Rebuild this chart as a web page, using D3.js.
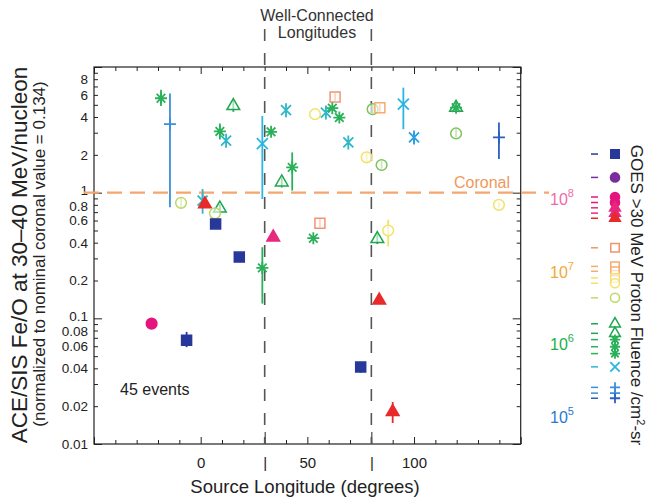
<!DOCTYPE html>
<html>
<head>
<meta charset="utf-8">
<script src="https://cdn.jsdelivr.net/npm/d3@7"></script>
<style>
body { margin: 0; background: #fff; }
text { font-family: "Liberation Sans", Arial, Helvetica, sans-serif; }
</style>
</head>
<body>
<script>
var g_width = 650
var g_height = 498

// ---- data ----
// source longitude (deg) of each of the 45 events
var longitudes = [-18.6, -14.4, 15.3, 9.0, 11.9, 28.9, 33, 40, 42.9, 38,
                  -9.2, 0.9, 2.0, 9.0, 6.7, 7.0, 18.1, 34, 28.9, 52.8,
                  55.9, -23, 82.8, 87.9, 139.8, 83.7, 53.6, 58.7, 63, 61.7,
                  65, 69.2, 77.8, 80.6, 84, 84.8, 95, 100, 119.7, 119.7,
                  119.7, 139.8, -6.6, 75, 90]
// Fe/O normalised to coronal
var feO = [5.64, 3.51, 4.9, 3.07, 2.59, 2.46, 3.05, 4.53, 1.59, 1.21,
           0.83, 0.864, 0.81, 0.75, 0.685, 0.564, 0.307, 0.442, 0.252, 0.434,
           0.571, 0.0907, 0.429, 0.5, 0.8, 0.139, 4.21, 4.34, 5.78, 4.7,
           3.96, 2.51, 1.91, 4.62, 4.75, 1.66, 5.06, 2.75, 4.75, 4.75,
           2.96, 2.75, 0.0669, 0.041, 0.018]
var errLow = [4.9, 0.764, 4.4, 2.65, null, 0.89, null, null, 1.04, 1.1,
              0.76, 0.68, null, 0.69, null, null, null, null, 0.131, null,
              0.53, null, 0.39, 0.373, 0.76, null, null, null, 5.4, null,
              null, null, 1.75, 4.25, 4.4, 1.55, 3.2, 2.5, null, null,
              2.75, 1.85, 0.059, 0.037, 0.0147]
var errHigh = [6.6, 6.14, 5.4, 3.55, null, 4.08, null, null, 2.09, 1.33,
               0.91, 1.07, null, 0.81, null, null, null, null, 0.368, null,
               0.62, null, 0.47, 0.61, 0.84, null, null, null, 6.2, null,
               null, null, 2.08, 5.0, 5.1, 1.78, 6.85, 3.0, null, null,
               3.2, 3.61, 0.078, 0.045, 0.0216]
// GOES fluence class of each event (picks symbol + colour)
var fluenceClass = ["astGreen", "crossBlue", "triGreen", "astGreen", "astCyan", "xCyan", "astGreen", "astCyan", "astGreen", "triGreen",
                    "circYG", "astCyan", "triRed", "triGreen", "circYG", "sqNavy", "sqNavy", "triMag", "astGreen", "astGreen",
                    "sqSalmon", "circMag", "triGreen", "circYellow", "circYellow", "triRed", "circYellow", "astCyan", "sqSalmon", "astGreen",
                    "astGreen", "astCyan", "circYellow", "circGreen", "sqOrange", "circGreen", "xCyan", "astBlue", "triGreen", "astGreen",
                    "circGreen", "crossDark", "sqNavy", "sqNavy", "triRed"]

// legend: fluence (/cm2-sr) and class of each legend row
var legendFluence = [3.9e8, 1.86e8, 1.0e8, 8.4e7, 7.1e7, 6.0e7, 5.1e7, 2.0e7, 1.11e7, 9.5e6,
                     7.7e6, 6.5e6, 4.1e6, 1.8e6, 1.33e6, 1.09e6, 8.7e5, 7.0e5, 4.6e5, 2.4e5,
                     2.0e5, 1.7e5]
var legendClass = ["sqNavy", "circPurple", "circMag", "circMag", "triMag", "triMag", "triRed", "sqSalmon", "sqOrange", "sqOrange",
                   "sqYellow", "circYellow", "circYG", "triGreen", "triGreen", "astGreen", "astGreen", "astGreen", "xCyan", "crossBlue",
                   "crossBlue", "crossDark"]
var fluenceTicks = [1e5, 1e6, 1e7, 1e8]
var fluenceTickColors = ["#2a78d0", "#22b04a", "#f4a838", "#f06aa8"]

var xTickLabels = {"0": "0", "30": "|", "50": "50", "80": "|", "100": "100"}
var yTickLabels = [0.01, 0.02, 0.04, 0.06, 0.08, 0.1, 0.2, 0.4, 0.6, 0.8, 1, 2, 4, 6, 8]
var wellConnected = [30, 80]
var coronalValue = 1

// ---- marker styles ----
var markerStyle = {
    sqNavy:     {shape: "square",   filled: true,  color: "#27389a"},
    circPurple: {shape: "circle",   filled: true,  color: "#7b2d9e"},
    circMag:    {shape: "circle",   filled: true,  color: "#e5157d"},
    triMag:     {shape: "triangle", filled: true,  color: "#e7287f"},
    triRed:     {shape: "triangle", filled: true,  color: "#e82a2a"},
    sqSalmon:   {shape: "square",   filled: false, color: "#f29472"},
    sqOrange:   {shape: "square",   filled: false, color: "#f5ac6c"},
    sqYellow:   {shape: "square",   filled: false, color: "#f3e070"},
    circYellow: {shape: "circle",   filled: false, color: "#f1e26a"},
    circYG:     {shape: "circle",   filled: false, color: "#bcd96a"},
    circGreen:  {shape: "circle",   filled: false, color: "#7cc35a"},
    triGreen:   {shape: "triangle", filled: false, color: "#1fa64e"},
    astGreen:   {shape: "asterisk", filled: false, color: "#2bb05a"},
    astCyan:    {shape: "star6",    filled: false, color: "#2db7c8"},
    astBlue:    {shape: "star6",    filled: false, color: "#2a9ee0"},
    xCyan:      {shape: "x",        filled: false, color: "#2bb6e2"},
    crossBlue:  {shape: "cross",    filled: false, color: "#3a8fda"},
    crossDark:  {shape: "cross",    filled: false, color: "#2c5fc2"}
}

var pathFor = {
    square:   d3.symbol().type(d3.symbolSquare).size(100)(),
    circle:   d3.symbol().type(d3.symbolCircle).size(90)(),
    triangle: d3.symbol().type(d3.symbolTriangle).size(70)(),
    asterisk: "M-6,0H6M0,-6V6M-4.3,-4.3L4.3,4.3M-4.3,4.3L4.3,-4.3",
    star6:    "M0,-7V7M-5,-5L5,5M-5,5L5,-5",
    x:        "M-5.5,-5.5L5.5,5.5M-5.5,5.5L5.5,-5.5",
    cross:    "M-6,0H6M0,-6V6"
}

var svg = d3.select("body")
    .append("svg")
    .attr("width", g_width)
    .attr("height", g_height)
    .style("background-color", "white")

var xScale = d3.scaleLinear().domain([-50, 150]).range([94, 520.7])
var yScale = d3.scaleLog().domain([0.01, 10]).range([444, 67])
var fScale = d3.scaleLog().domain([1e5, 1e8]).range([415, 197])

var plotTop = 67, plotBottom = 444, plotLeft = 94, plotRight = 520.7

// ticks for log axis
var yTicks = []
;[0.01, 0.1, 1].forEach(function(dec) {
    for (var k = 1; k < 10; k++) yTicks.push(+(dec * k).toPrecision(3))
})
yTicks.push(10)
var isMajorY = function(v) { return v == 0.01 || v == 0.1 || v == 1 || v == 10 }
var xTicks = d3.range(-50, 151, 10)

// bottom axis
var xAxisPlot = svg.append("g")
    .attr("transform", "translate(0," + plotBottom + ")")
    .call(d3.axisBottom(xScale).tickValues(xTicks).tickSize(-4).tickPadding(13)
        .tickFormat(function(d) { return xTickLabels[d] || "" }))
xAxisPlot.selectAll(".tick line")
    .attr("y2", function(d) { return (d == 30 || d == 80) ? -12 : (d % 50 == 0 ? -7 : -4) })

// top axis
var topAxis = svg.append("g")
    .attr("transform", "translate(0," + plotTop + ")")
    .call(d3.axisTop(xScale).tickValues(xTicks).tickSize(-4).tickFormat(""))
topAxis.selectAll(".tick line")
    .attr("y2", function(d) { return d % 50 == 0 ? 7 : 4 })

// left axis
var yAxisPlot = svg.append("g")
    .attr("transform", "translate(" + plotLeft + ",0)")
    .call(d3.axisLeft(yScale).tickValues(yTicks).tickSize(-4).tickPadding(6)
        .tickFormat(function(d) { return yTickLabels.indexOf(d) >= 0 ? String(d) : "" }))
yAxisPlot.selectAll(".tick line")
    .attr("x2", function(d) { return isMajorY(d) ? 8 : 4 })

// right axis
var rightAxis = svg.append("g")
    .attr("transform", "translate(" + plotRight + ",0)")
    .call(d3.axisRight(yScale).tickValues(yTicks).tickSize(-4).tickFormat(""))
rightAxis.selectAll(".tick line")
    .attr("x2", function(d) { return isMajorY(d) ? -8 : -4 })

svg.selectAll(".domain").remove()
svg.selectAll(".tick line").attr("stroke", "#222").attr("stroke-width", 1)
svg.selectAll(".tick text")
    .attr("font-family", "Liberation Sans, Arial, sans-serif")
    .attr("fill", "#222")
xAxisPlot.selectAll(".tick text").attr("font-size", 15)
yAxisPlot.selectAll(".tick text").attr("font-size", 13.5)
// decade labels sit a bit high, the next label a bit low (as in the original)
yAxisPlot.selectAll(".tick text")
    .attr("y", function(d) { return (d == 1 || d == 0.1) ? -2.5 : ((d == 0.8 || d == 0.08) ? 1 : 0) })

// frame
svg.append("rect")
    .attr("x", plotLeft).attr("y", plotTop)
    .attr("width", plotRight - plotLeft).attr("height", plotBottom - plotTop)
    .attr("fill", "none").attr("stroke", "#222").attr("stroke-width", 1.2)

// well-connected dashed lines
svg.selectAll(".wc")
    .data(wellConnected)
    .enter().append("line")
    .attr("x1", function(d) { return xScale(d) }).attr("x2", function(d) { return xScale(d) })
    .attr("y1", 29).attr("y2", plotBottom)
    .attr("stroke", "#555").attr("stroke-width", 1.6)
    .attr("stroke-dasharray", "12,12")

svg.append("text").attr("x", 317).attr("y", 21).attr("text-anchor", "middle")
    .attr("font-size", 16).attr("fill", "#333").text("Well-Connected")
svg.append("text").attr("x", 317).attr("y", 38).attr("text-anchor", "middle")
    .attr("font-size", 16).attr("fill", "#333").text("Longitudes")

// coronal line
svg.append("line")
    .attr("x1", 84).attr("x2", 549)
    .attr("y1", yScale(coronalValue)).attr("y2", yScale(coronalValue))
    .attr("stroke", "#f5a56e").attr("stroke-width", 2.4)
    .attr("stroke-dasharray", "15,8")
svg.append("text").attr("x", 510).attr("y", yScale(coronalValue) - 5)
    .attr("text-anchor", "end").attr("font-size", 16).attr("fill", "#f0985a").text("Coronal")

svg.append("text").attr("x", 120).attr("y", 395)
    .attr("font-size", 16).attr("fill", "#222").text("45 events")

// axis titles
svg.append("text").attr("transform", "translate(305,493)")
    .attr("text-anchor", "middle").attr("font-size", 18.5).attr("fill", "#222")
    .text("Source Longitude (degrees)")
svg.append("text").attr("transform", "translate(27,255) rotate(-90)")
    .attr("text-anchor", "middle").attr("font-size", 22.5).attr("fill", "#222")
    .text("ACE/SIS Fe/O at 30\u201340 MeV/nucleon")
svg.append("text").attr("transform", "translate(45,254) rotate(-90)")
    .attr("text-anchor", "middle").attr("font-size", 17).attr("fill", "#222")
    .text("(normalized to nominal coronal value = 0.134)")

function drawMarker(g, cls, k) {
    var st = markerStyle[cls]
    var isLine = (st.shape == "asterisk" || st.shape == "star6" || st.shape == "x" || st.shape == "cross")
    g.append("path")
        .attr("d", pathFor[st.shape])
        .attr("transform", "scale(" + k + ")")
        .attr("fill", st.filled ? st.color : (isLine ? "none" : "rgba(255,255,255,0.6)"))
        .attr("stroke", st.color)
        .attr("stroke-width", isLine ? 1.8 / k : 1.5 / k)
}

// error bars
var points = longitudes.map(function(lon, i) {
    return {lon: lon, v: feO[i], lo: errLow[i], hi: errHigh[i], cls: fluenceClass[i]}
})
svg.selectAll(".err")
    .data(points.filter(function(p) { return p.lo != null }))
    .enter().append("line")
    .attr("x1", function(p) { return xScale(p.lon) }).attr("x2", function(p) { return xScale(p.lon) })
    .attr("y1", function(p) { return yScale(p.lo) }).attr("y2", function(p) { return yScale(p.hi) })
    .attr("stroke", function(p) { return markerStyle[p.cls].color })
    .attr("stroke-width", 1.8)

// markers
points.forEach(function(p) {
    var g = svg.append("g").attr("transform", "translate(" + xScale(p.lon) + "," + yScale(p.v) + ")")
    drawMarker(g, p.cls, 1)
})

// legend
var legendX = 615
legendFluence.forEach(function(f, i) {
    var yy = fScale(f)
    svg.append("line")
        .attr("x1", 591).attr("x2", 598).attr("y1", yy).attr("y2", yy)
        .attr("stroke", markerStyle[legendClass[i]].color).attr("stroke-width", 1.5)
    var g = svg.append("g").attr("transform", "translate(" + legendX + "," + yy + ")")
    drawMarker(g, legendClass[i], 0.85)
})
fluenceTicks.forEach(function(f, i) {
    var t = svg.append("text").attr("x", 550).attr("y", fScale(f) + 8)
        .attr("font-size", 16).attr("fill", fluenceTickColors[i])
    t.append("tspan").text("10")
    t.append("tspan").attr("dy", -8).attr("font-size", 11).text(String(Math.round(Math.log10(f))))
})
var lt = svg.append("text").attr("transform", "translate(631,295) rotate(90)")
    .attr("text-anchor", "middle").attr("font-size", 17).attr("fill", "#222")
lt.append("tspan").text("GOES >30 MeV Proton Fluence /cm")
lt.append("tspan").attr("dy", -6).attr("font-size", 11).text("2")
lt.append("tspan").attr("dy", 6).text("-sr")
</script>
</body>
</html>
